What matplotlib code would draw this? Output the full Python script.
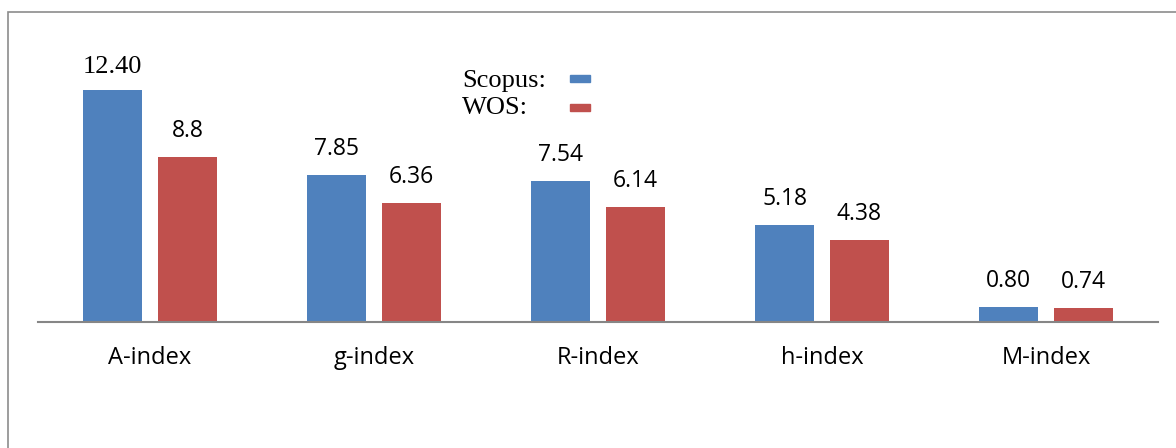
import numpy as np
import matplotlib.pyplot as plt
from matplotlib.patches import Rectangle

# data
categories = ['A-index', 'g-index', 'R-index', 'h-index', 'M-index']
scopus = [12.40, 7.85, 7.54, 5.18, 0.80]
wos = [8.8, 6.36, 6.14, 4.38, 0.74]
scopus_labels = ['12.40', '7.85', '7.54', '5.18', '0.80']
wos_labels = ['8.8', '6.36', '6.14', '4.38', '0.74']

blue = '#4F81BD'
red = '#C0504D'

fig = plt.figure(figsize=(11.76, 4.48), dpi=100)
W, H = 1176, 448

# outer frame (only left and top visible in the original)
fig.patches.append(Rectangle((8 / W, -0.1), 1.2, 1 - 12 / H + 0.1,
                             transform=fig.transFigure, fill=False,
                             edgecolor='#8c8c8c', linewidth=1.2))

ax = fig.add_axes([38 / W, 1 - 322 / H, 1120 / W, 300 / H])
x = np.arange(len(categories))
bw = 0.263
off = 0.167
ax.bar(x - off, scopus, bw, color=blue)
ax.bar(x + off, wos, bw, color=red)
ax.set_xlim(-0.5, len(categories) - 0.5)
ax.set_ylim(0, 300 / 18.7)

for xi, v, lab in zip(x, scopus, scopus_labels):
    if lab == '12.40':
        ax.annotate(lab, (xi - off, v), xytext=(0, 17), textcoords='offset points',
                    ha='center', va='center', fontsize=19, family='Liberation Serif')
    else:
        ax.annotate(lab, (xi - off, v), xytext=(0, 19), textcoords='offset points',
                    ha='center', va='center', fontsize=16.5, family='Open Sans')
for xi, v, lab in zip(x, wos, wos_labels):
    ax.annotate(lab, (xi + off, v), xytext=(0, 19), textcoords='offset points',
                ha='center', va='center', fontsize=16.5, family='Open Sans')

for s in ['top', 'right', 'left']:
    ax.spines[s].set_visible(False)
ax.spines['bottom'].set_color('#868686')
ax.spines['bottom'].set_linewidth(1.5)
ax.set_yticks([])
ax.set_xticks(x)
ax.set_xticklabels(categories, fontsize=17, family='Open Sans')
ax.tick_params(axis='x', length=0, pad=17)

# legend drawn by hand, like in the original
fig.text(462 / W, 1 - 81 / H, 'Scopus:', family='Liberation Serif', fontsize=19, va='center')
fig.text(462 / W, 1 - 108 / H, 'WOS:', family='Liberation Serif', fontsize=19, va='center')
fig.patches.append(Rectangle((570 / W, 1 - 82 / H), 20 / W, 7 / H,
                             transform=fig.transFigure, color=blue))
fig.patches.append(Rectangle((570 / W, 1 - 111 / H), 20 / W, 7 / H,
                             transform=fig.transFigure, color=red))

fig.savefig('out.png', dpi=100)
